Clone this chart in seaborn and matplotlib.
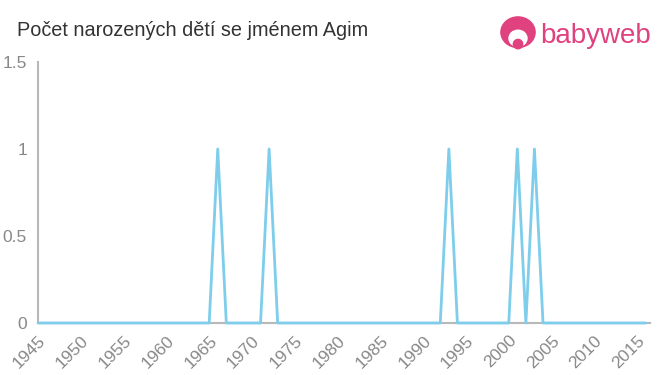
import matplotlib
matplotlib.use("Agg")
import matplotlib.pyplot as plt
import seaborn as sns
import pandas as pd
import numpy as np
from matplotlib.patches import Circle, Ellipse

years = list(range(1945, 2017))
peak_years = [1966, 1972, 1993, 2001, 2003]
peak_counts = [1, 1, 1, 1, 1]
counts = [peak_counts[peak_years.index(y)] if y in peak_years else 0 for y in years]
x_ticks = list(range(1945, 2020, 5))
y_ticks = [0, 0.5, 1, 1.5]
y_labels = ["0", "0.5", "1", "1.5"]

df = pd.DataFrame({"year": years, "count": counts})

sns.set_style("white")
plt.rcParams['font.family'] = ['Liberation Sans', 'DejaVu Sans']

fig = plt.figure(figsize=(6.6, 3.75), dpi=100)
ax = fig.add_axes([38/660, 1-323/375, (650-38)/660, (323-62)/375])

sns.lineplot(data=df, x="year", y="count", ax=ax, color="#7dcdeb", linewidth=2)

ax.set_xlim(1945, 2016.5)
ax.set_ylim(0, 1.5)
ax.set_xticks(x_ticks)
ax.set_xticklabels([str(t) for t in x_ticks], rotation=45, ha="right", rotation_mode="anchor")
ax.set_yticks(y_ticks)
ax.set_yticklabels(y_labels)
ax.set_xlabel("")
ax.set_ylabel("")

gray = "#b8b8b8"
for side in ["top", "right"]:
    ax.spines[side].set_visible(False)
for side in ["left", "bottom"]:
    ax.spines[side].set_color(gray)
    ax.spines[side].set_linewidth(1.5)
    ax.spines[side].set_zorder(1)
ax.tick_params(axis="both", colors=gray, length=5, width=1.2, labelcolor="#888888", labelsize=12.5, direction="out")
ax.tick_params(axis="x", pad=2)
ax.tick_params(axis="y", pad=3)
for l in ax.lines:
    l.set_zorder(3)
    l.set_clip_on(False)

fig.text(17/660, 1-31/375, "Počet narozených dětí se jménem Agim", fontsize=14.3, color="#333333", va="center", ha="left")

pink = "#e0427f"
fig.text(540/660, 1-36/375, "babyweb", fontsize=20, color=pink, va="center", ha="left")
lax = fig.add_axes([500/660, 1-52/375, 36/660, 36/375])
lax.set_xlim(0, 1); lax.set_ylim(0, 1); lax.axis("off")
lax.add_patch(Ellipse((0.5, 0.55), 0.95, 0.85, color=pink))
lax.add_patch(Ellipse((0.5, 0.38), 0.5, 0.45, color="white"))
lax.add_patch(Circle((0.5, 0.22), 0.13, color=pink))

fig.savefig("out.png", dpi=100)
